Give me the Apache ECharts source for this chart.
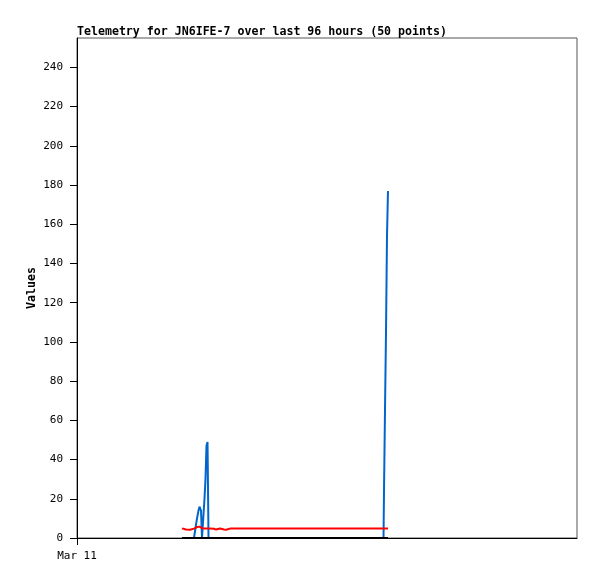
<!DOCTYPE html>
<html>
<head>
<meta charset="utf-8">
<script src="https://cdn.jsdelivr.net/npm/echarts@6/dist/echarts.min.js"></script>
<style>
  html, body { margin: 0; padding: 0; background: #fff; }
  #chart { width: 597px; height: 579px; }
</style>
</head>
<body>
<div id="chart"></div>
<script>
// hours since Mar 11 00:00
const hours = [
  20.16, 20.54, 20.93, 21.31, 21.70, 22.08, 22.46, 22.75, 23.04, 23.33,
  23.52, 23.81, 24.00, 24.29, 24.48, 24.67, 24.86, 25.06, 25.25, 25.54,
  25.92, 26.30, 26.69, 27.07, 27.46, 27.84, 28.22, 28.61, 28.99, 29.38,
  29.76, 31.30, 33.41, 35.52, 37.63, 39.74, 41.86, 43.97, 46.08, 48.19,
  50.30, 52.42, 54.53, 56.64, 58.85, 58.94, 59.14, 59.33, 59.52, 59.71
];
const blueValues = [
  0, 0, 0, 0, 0, 0, 0, 0, 10, 14,
  16, 14, 0, 0, 20, 30, 47, 49, 0, 0,
  0, 0, 0, 0, 0, 0, 0, 0, 0, 0,
  0, 0, 0, 0, 0, 0, 0, 0, 0, 0,
  0, 0, 0, 0, 0, 23, 66, 105, 154, 177
];
const redValues = [
  4.9, 4.6, 4.3, 4.2, 4.2, 4.4, 4.8, 5.2, 5.6, 5.8,
  5.8, 5.4, 5.0, 4.8, 4.8, 4.9, 4.8, 4.8, 4.8, 4.8,
  4.6, 4.7, 4.3, 4.3, 4.8, 4.8, 4.3, 4.2, 4.3, 4.8,
  4.8, 4.8, 4.8, 4.8, 4.8, 4.8, 4.8, 4.8, 4.8, 4.8,
  4.8, 4.8, 4.8, 4.8, 4.8, 4.8, 4.8, 4.8, 4.8, 4.8
];
const blackValues = [
  0, 0, 0, 0, 0, 0, 0, 0, 0, 0,
  0, 0, 0, 0, 0, 0, 0, 0, 0, 0,
  0, 0, 0, 0, 0, 0, 0, 0, 0, 0,
  0, 0, 0, 0, 0, 0, 0, 0, 0, 0,
  0, 0, 0, 0, 0, 0, 0, 0, 0, 0
];
const yTicks = [0, 20, 40, 60, 80, 100, 120, 140, 160, 180, 200, 220, 240];
const xTicks = [0];
const xTickLabels = ['Mar 11'];

const mono = '"DejaVu Sans Mono", "Liberation Mono", monospace';
const pair = vals => hours.map((h, i) => [h, vals[i]]);

const chart = echarts.init(document.getElementById('chart'));

const option = {
  animation: false,
  backgroundColor: '#fff',
  title: {
    text: 'Telemetry for JN6IFE-7 over last 96 hours (50 points)',
    left: 72,
    top: 21,
    textStyle: { fontFamily: mono, fontSize: 11.6, fontWeight: 'bold', color: '#000' }
  },
  grid: {
    left: 77, right: 20, top: 38, bottom: 41,
    show: true, borderColor: '#555', borderWidth: 1
  },
  xAxis: {
    type: 'value',
    min: 0,
    max: 96,
    splitLine: { show: false },
    axisLine: { lineStyle: { color: '#000', width: 1 } },
    axisTick: { customValues: xTicks, length: 7, lineStyle: { color: '#000' } },
    axisLabel: {
      customValues: xTicks,
      formatter: v => xTickLabels[xTicks.indexOf(v)] || '',
      fontFamily: mono, fontSize: 11, color: '#000', margin: 13
    }
  },
  yAxis: {
    type: 'value',
    min: 0,
    max: 255,
    name: 'Values',
    nameLocation: 'middle',
    nameRotate: 90,
    nameGap: 39,
    nameMoveOverlap: false,
    nameTextStyle: { fontFamily: mono, fontSize: 11.6, fontWeight: 'bold', color: '#000' },
    splitLine: { show: false },
    axisLine: { show: true, lineStyle: { color: '#000', width: 1 } },
    axisTick: { customValues: yTicks, length: 7, lineStyle: { color: '#000' } },
    axisLabel: {
      customValues: yTicks,
      fontFamily: mono, fontSize: 11, color: '#000', margin: 14
    }
  },
  series: [
    {
      type: 'line', data: pair(blueValues), showSymbol: false,
      lineStyle: { color: '#0066cc', width: 2 }, z: 2
    },
    {
      type: 'line', data: pair(redValues), showSymbol: false,
      lineStyle: { color: '#ff0000', width: 2 }, z: 3
    },
    {
      type: 'line', data: pair(blackValues), showSymbol: false,
      lineStyle: { color: '#000', width: 2 }, z: 4
    }
  ]
};

chart.setOption(option);
</script>
</body>
</html>
